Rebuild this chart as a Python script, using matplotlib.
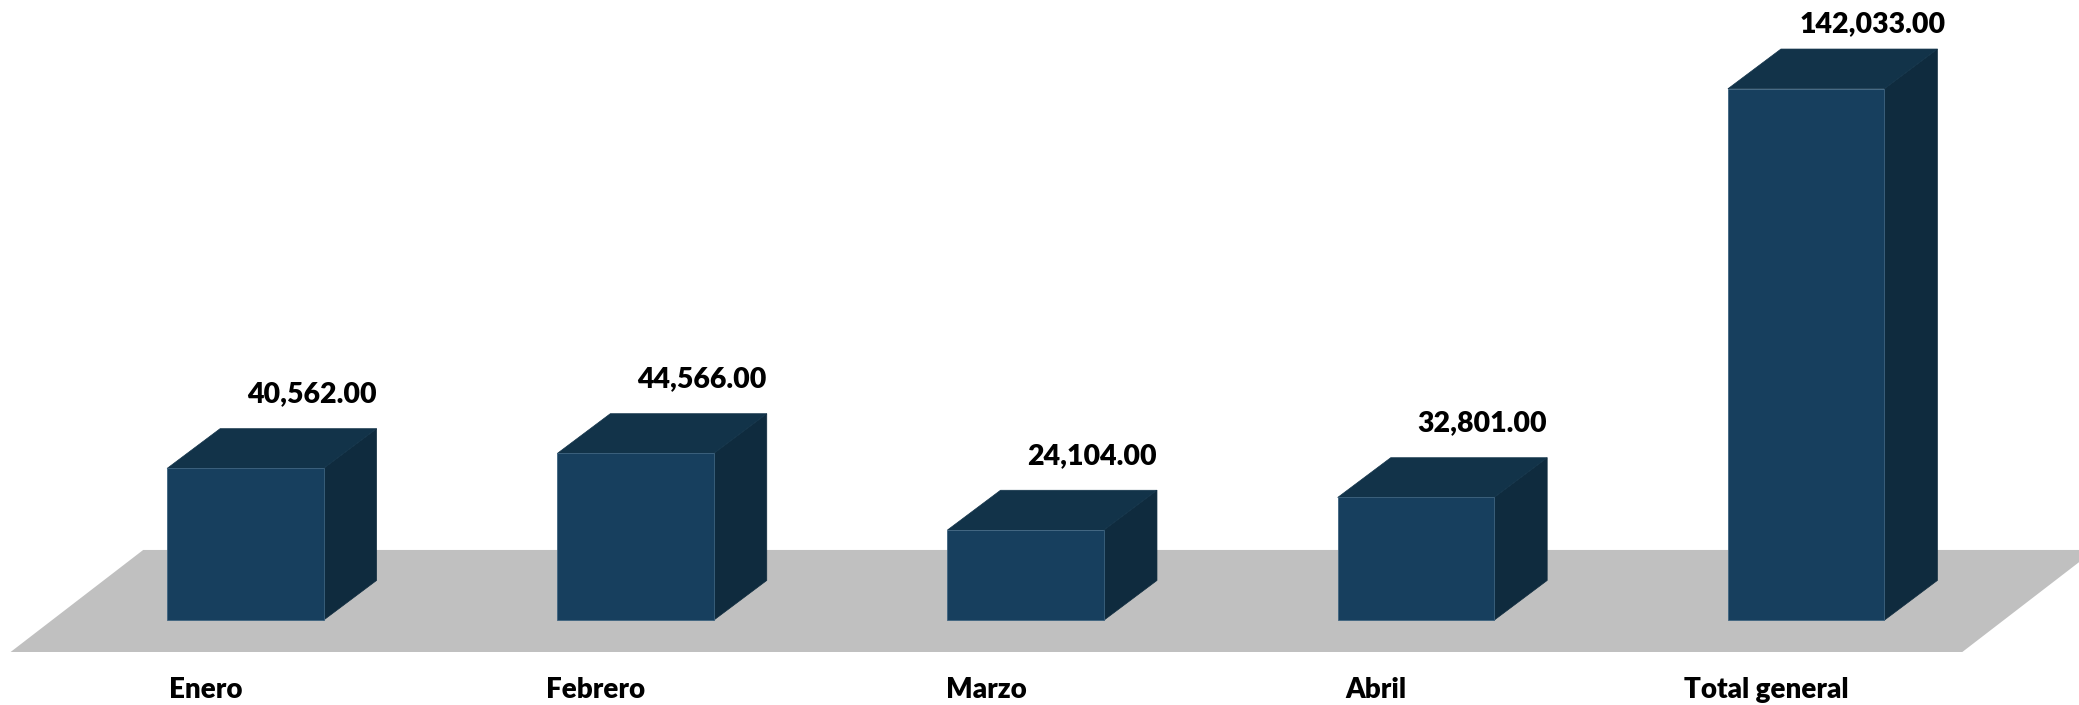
import matplotlib
matplotlib.use("Agg")
import matplotlib.pyplot as plt
from matplotlib.patches import Polygon

# ---- data ----
categories = ["Enero", "Febrero", "Marzo", "Abril", "Total general"]
values = [40562.00, 44566.00, 24104.00, 32801.00, 142033.00]
value_labels = ["40,562.00", "44,566.00", "24,104.00", "32,801.00", "142,033.00"]

# ---- style / layout (pixel layout of the 1568x532 reference) ----
W, H = 1568.0, 532.0
c0_px, step_px = 185.0, 294.3      # first bar front center, spacing
base_px = 468.0                    # bar front bottom
unit_per_px = 142033.0 / 401.0     # value per pixel
bar_w = 118.0 / step_px
depth_dx = 40.0 / step_px
depth_dy = 30.0 * unit_per_px

FRONT = "#173F5E"
TOP = "#123349"
SIDE = "#0F2B3E"
FLOOR = "#C0C0C0"
FONT = ["Lato", "DejaVu Sans"]

def px2x(px):
    return (px - c0_px) / step_px

def px2y(py):
    return (base_px - py) * unit_per_px

fig = plt.figure(figsize=(20.79, 7.05), dpi=100)
ax = fig.add_axes([0, 0, 1, 1])
ax.set_xlim(px2x(0), px2x(W))
ax.set_ylim(px2y(H), px2y(0))
ax.axis("off")

# floor
floor = Polygon([(px2x(8), px2y(492)), (px2x(1480), px2y(492)),
                 (px2x(1580), px2y(415)), (px2x(108), px2y(415))],
                closed=True, facecolor=FLOOR, edgecolor="none", zorder=1)
ax.add_patch(floor)

xs = list(range(len(categories)))
for i, v in zip(xs, values):
    l, r = i - bar_w / 2, i + bar_w / 2
    # side
    ax.add_patch(Polygon([(r, 0), (r + depth_dx, depth_dy), (r + depth_dx, v + depth_dy), (r, v)],
                         closed=True, facecolor=SIDE, edgecolor=SIDE, lw=0.5, zorder=2))
    # top
    ax.add_patch(Polygon([(l, v), (r, v), (r + depth_dx, v + depth_dy), (l + depth_dx, v + depth_dy)],
                         closed=True, facecolor=TOP, edgecolor=TOP, lw=0.5, zorder=2))

ax.bar(xs, values, width=bar_w, color=FRONT, edgecolor="#3E6480", linewidth=0.6, zorder=3)

top_lim = px2y(18)
for i, v, lab in zip(xs, values, value_labels):
    y = min(v + depth_dy + 26 * unit_per_px, top_lim)
    ax.text(i + 50.0 / step_px, y, lab, ha="center", va="center",
            fontsize=20.5, fontweight="heavy", family=FONT, color="black", zorder=5)

for i, cat in zip(xs, categories):
    ax.text(i - 30.0 / step_px, px2y(521), cat, ha="center", va="center",
            fontsize=20, fontweight="heavy", family=FONT, color="black", zorder=5)

fig.savefig("out.png", dpi=100, facecolor="white")
